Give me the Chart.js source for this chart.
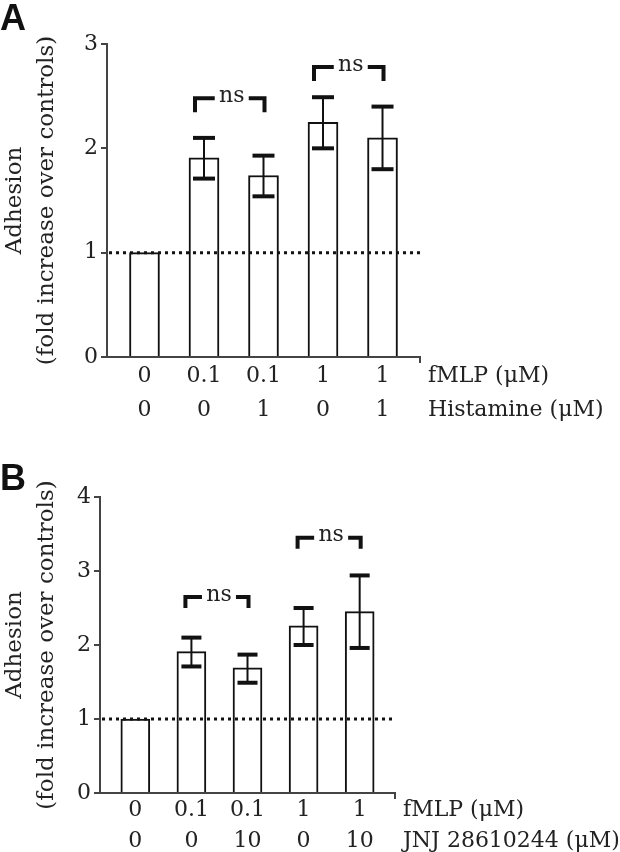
<!DOCTYPE html>
<html><head><meta charset="utf-8">
<script src="https://cdn.jsdelivr.net/npm/chart.js@4/dist/chart.umd.min.js"></script>
<style>
html,body{margin:0;padding:0;background:#fff;}
#wrap{position:relative;width:620px;height:852px;overflow:hidden;background:#fff;}
.panel{position:absolute;left:0;}
.letter{position:absolute;font-family:"Liberation Sans",Arial,sans-serif;font-weight:bold;font-size:36px;color:#111;line-height:1;}
</style></head><body>
<div id="wrap">
<div class="panel" style="top:0;width:620px;height:430px"><canvas id="cA" width="620" height="430"></canvas></div>
<div class="panel" style="top:430px;width:620px;height:422px"><canvas id="cB" width="620" height="422"></canvas></div>
<div class="letter" style="left:0;top:0">A</div>
<div class="letter" style="left:0;top:460px">B</div>
</div>
<script>
// ---- data ----
const categories = [0, 1, 2, 3, 4];
const fmlpA = ['0', '0.1', '0.1', '1', '1'];
const histamineA = ['0', '0', '1', '0', '1'];
const adhesionA = [1.00, 1.91, 1.74, 2.25, 2.10];
const errLowA = [1.00, 1.71, 1.54, 2.00, 1.80];
const errHighA = [1.00, 2.10, 1.93, 2.49, 2.40];
const yTicksA = [0, 1, 2, 3];
const rowNamesA = ['fMLP (\u03BCM)', 'Histamine (\u03BCM)'];

const fmlpB = ['0', '0.1', '0.1', '1', '1'];
const jnjB = ['0', '0', '10', '0', '10'];
const adhesionB = [1.00, 1.91, 1.69, 2.26, 2.45];
const errLowB = [1.00, 1.71, 1.49, 2.00, 1.96];
const errHighB = [1.00, 2.10, 1.87, 2.50, 2.94];
const yTicksB = [0, 1, 2, 3, 4];
const rowNamesB = ['fMLP (\u03BCM)', 'JNJ 28610244 (\u03BCM)'];

const nsA = [{from: 1, to: 2, level: 2.48}, {from: 3, to: 4, level: 2.78}];
const nsB = [{from: 1, to: 2, level: 2.65}, {from: 3, to: 4, level: 3.45}];
const controlLevel = 1;
const yTitle = ['Adhesion', '(fold increase over controls)'];

const SERIF = '"DejaVu Serif"';
Chart.defaults.font.family = SERIF;
Chart.defaults.color = '#222';

function makePlugin(p) {
  return {
    id: 'decor',
    afterDatasetsDraw(chart) {
      const ctx = chart.ctx, xs = chart.scales.x, ys = chart.scales.y, ca = chart.chartArea;
      const line = (x1, y1, x2, y2) => { ctx.beginPath(); ctx.moveTo(x1, y1); ctx.lineTo(x2, y2); ctx.stroke(); };
      ctx.save();
      ctx.strokeStyle = '#111';
      ctx.lineWidth = 3; ctx.setLineDash([3, 4]);
      const yr = ys.getPixelForValue(controlLevel);
      line(ca.left + 2, yr, ca.right - p.refTrim, yr);
      ctx.setLineDash([]);
      p.low.forEach((lo, i) => {
        const hi = p.high[i];
        if (hi === lo) return;
        const x = xs.getPixelForValue(categories[i]);
        const y1 = ys.getPixelForValue(hi), y2 = ys.getPixelForValue(lo);
        ctx.lineWidth = 2; line(x, y1, x, y2);
        ctx.lineWidth = 4;
        line(x - p.cap / 2, y1, x + p.cap / 2, y1);
        line(x - p.cap / 2, y2, x + p.cap / 2, y2);
      });
      ctx.font = p.font + 'px ' + SERIF;
      ctx.fillStyle = '#222';
      ctx.textAlign = 'center'; ctx.textBaseline = 'middle';
      p.brackets.forEach(b => {
        const xl = xs.getPixelForValue(b.from) - p.bl;
        const xr = xs.getPixelForValue(b.to) + 1;
        const y = ys.getPixelForValue(b.level);
        const c = (xl + xr) / 2;
        ctx.lineWidth = 4; ctx.lineCap = 'butt';
        ctx.beginPath(); ctx.moveTo(xl, y + p.leg); ctx.lineTo(xl, y); ctx.lineTo(c - 15, y); ctx.stroke();
        ctx.beginPath(); ctx.moveTo(c + 19, y); ctx.lineTo(xr, y); ctx.lineTo(xr, y + p.leg); ctx.stroke();
        ctx.fillText('ns', c + 2, y - 2);
      });
      ctx.strokeStyle = '#444'; ctx.lineWidth = 2;
      line(ca.right, ca.bottom, ca.right, ca.bottom + 6);
      ctx.font = p.font + 'px ' + SERIF;
      ctx.textAlign = 'left'; ctx.textBaseline = 'middle';
      p.rowNames.forEach((t, k) => {
        ctx.fillText(t, ca.right + 8, ca.bottom + p.pad + p.lh / 2 + k * p.lh);
      });
      ctx.restore();
    }
  };
}

function makeChart(id, g) {
  const data = categories.map((c, i) => ({x: c, y: g.values[i]}));
  return new Chart(document.getElementById(id), {
    type: 'bar',
    data: {
      datasets: [{
        data: data,
        backgroundColor: '#fff',
        borderColor: '#111',
        borderWidth: 2,
        barThickness: g.barW
      }]
    },
    options: {
      responsive: false,
      animation: false,
      events: [],
      layout: {padding: {left: 0, top: g.top, right: g.right, bottom: 0}},
      plugins: {legend: {display: false}, tooltip: {enabled: false}},
      scales: {
        x: {
          type: 'linear', min: -0.63, max: 4.63, offset: false,
          afterBuildTicks: s => { s.ticks = categories.map(v => ({value: v})); },
          afterFit: s => { s.height = g.xH; },
          grid: {display: false, drawTicks: false, tickLength: 0},
          border: {display: true, color: '#444', width: 2},
          ticks: {
            autoSkip: false, maxRotation: 0, padding: g.pad,
            font: {family: SERIF, size: g.font, lineHeight: g.lh / g.font},
            color: '#222',
            callback: v => [g.row1[v], g.row2[v]]
          }
        },
        y: {
          min: 0, max: g.yMax,
          afterBuildTicks: s => { s.ticks = g.yTicks.map(v => ({value: v})); },
          afterFit: s => { s.width = g.yW; },
          grid: {display: true, drawOnChartArea: false, drawTicks: true, tickLength: 6, color: '#444', lineWidth: 2},
          border: {display: true, color: '#444', width: 2},
          ticks: {padding: 3, font: {family: SERIF, size: g.font}, color: '#222'},
          title: {display: true, text: yTitle, padding: 0, color: '#222', font: {family: SERIF, size: 23, lineHeight: 1.35}}
        }
      }
    },
    plugins: [makePlugin({
      low: g.low, high: g.high, cap: g.cap, brackets: g.brackets, bl: g.bl, leg: g.leg,
      font: g.font, lh: g.lh, pad: g.pad, rowNames: g.rowNames, refTrim: g.refTrim
    })]
  });
}

makeChart('cA', {
  values: adhesionA, low: errLowA, high: errHighA, row1: fmlpA, row2: histamineA,
  rowNames: rowNamesA, yMax: 3, yTicks: yTicksA, brackets: nsA,
  top: 44, right: 200, yW: 107, xH: 73, barW: 30, cap: 22, bl: 9, leg: 14,
  font: 22, lh: 34, pad: 2, refTrim: 0
});
makeChart('cB', {
  values: adhesionB, low: errLowB, high: errHighB, row1: fmlpB, row2: jnjB,
  rowNames: rowNamesB, yMax: 4, yTicks: yTicksB, brackets: nsB,
  top: 67, right: 225, yW: 100, xH: 59, barW: 29, cap: 20, bl: 6, leg: 11,
  font: 22, lh: 31, pad: 2, refTrim: 3
});
</script>
</body></html>
